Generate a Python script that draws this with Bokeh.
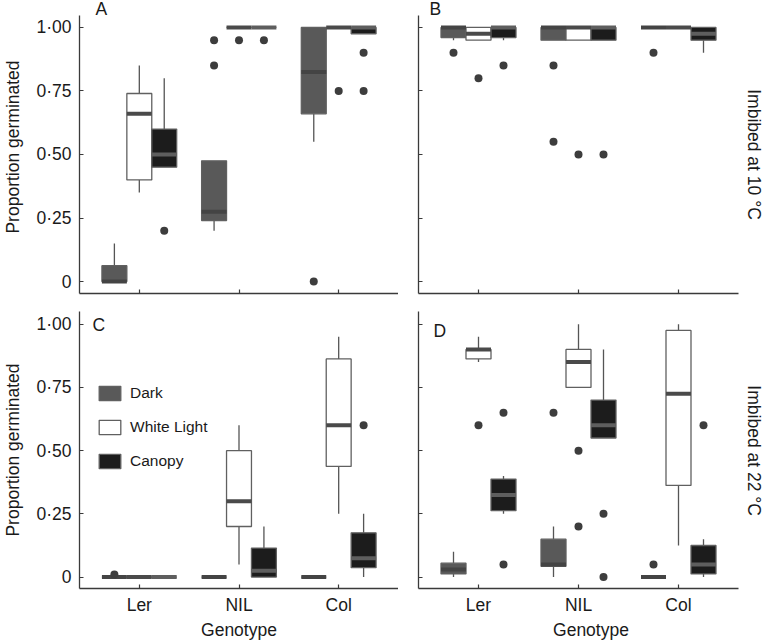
import math
from bokeh.plotting import figure
from bokeh.layouts import column, row
from bokeh.models import (ColumnDataSource, FixedTicker, Label, Legend, LegendItem,
                          CustomJSTickFormatter, Range1d)
from bokeh.embed import file_html
from bokeh.resources import INLINE

FONT = "Liberation Sans"

genotypes = ["Ler", "NIL", "Col"]
treatments = ["Dark", "White Light", "Canopy"]
y_ticks = [0, 0.25, 0.5, 0.75, 1.0]
y_tick_labels = ["0", "0·25", "0·50", "0·75", "1·00"]
row_labels = ["Imbibed at 10 °C", "Imbibed at 22 °C"]
y_axis_title = "Proportion germinated"
x_axis_title = "Genotype"

# Box statistics, 9 groups: Ler (Dark, White Light, Canopy), NIL (...), Col (...)
A_low = [0.00, 0.35, 0.45, 0.20, 1.00, 1.00, 0.55, 1.00, 0.975]
A_q1 = [0.00, 0.40, 0.45, 0.24, 1.00, 1.00, 0.66, 1.00, 0.975]
A_med = [0.00, 0.66, 0.50, 0.275, 1.00, 1.00, 0.825, 1.00, 1.00]
A_q3 = [0.0625, 0.74, 0.60, 0.475, 1.00, 1.00, 1.00, 1.00, 1.00]
A_high = [0.15, 0.85, 0.80, 0.475, 1.00, 1.00, 1.00, 1.00, 1.00]
A_out_group = [2, 3, 3, 4, 5, 6, 7, 8, 8]
A_out_value = [0.20, 0.85, 0.95, 0.95, 0.95, 0.00, 0.75, 0.90, 0.75]

B_low = [0.95, 0.95, 0.95, 0.95, 0.95, 0.95, 1.00, 1.00, 0.90]
B_q1 = [0.96, 0.95, 0.96, 0.95, 0.95, 0.95, 1.00, 1.00, 0.95]
B_med = [1.00, 0.975, 1.00, 1.00, 1.00, 1.00, 1.00, 1.00, 0.975]
B_q3 = [1.00, 1.00, 1.00, 1.00, 1.00, 1.00, 1.00, 1.00, 1.00]
B_high = [1.00, 1.00, 1.00, 1.00, 1.00, 1.00, 1.00, 1.00, 1.00]
B_out_group = [0, 1, 2, 3, 3, 4, 5, 6]
B_out_value = [0.90, 0.80, 0.85, 0.85, 0.55, 0.50, 0.50, 0.90]

C_low = [0.00, 0.00, 0.00, 0.00, 0.05, 0.00, 0.00, 0.25, 0.00]
C_q1 = [0.00, 0.00, 0.00, 0.00, 0.20, 0.00, 0.00, 0.4375, 0.0375]
C_med = [0.00, 0.00, 0.00, 0.00, 0.30, 0.025, 0.00, 0.60, 0.075]
C_q3 = [0.00, 0.00, 0.00, 0.00, 0.50, 0.115, 0.00, 0.8625, 0.175]
C_high = [0.00, 0.00, 0.00, 0.00, 0.60, 0.20, 0.00, 0.95, 0.25]
C_out_group = [0, 8]
C_out_value = [0.01, 0.60]

D_low = [0.00, 0.85, 0.25, 0.00, 0.75, 0.55, 0.00, 0.125, 0.00]
D_q1 = [0.0125, 0.8625, 0.2625, 0.0425, 0.75, 0.55, 0.00, 0.3625, 0.0125]
D_med = [0.03, 0.90, 0.325, 0.05, 0.85, 0.60, 0.00, 0.725, 0.05]
D_q3 = [0.055, 0.90, 0.3875, 0.15, 0.90, 0.70, 0.00, 0.975, 0.125]
D_high = [0.10, 0.95, 0.40, 0.20, 1.00, 0.90, 0.00, 1.00, 0.15]
D_out_group = [1, 2, 2, 3, 4, 4, 5, 5, 6, 8]
D_out_value = [0.60, 0.65, 0.05, 0.65, 0.50, 0.20, 0.25, 0.00, 0.05, 0.60]

# styles / layout
FILLS = ["#595959", "#ffffff", "#1c1c1c"]
MEDIANS = ["#444444", "#4a4a4a", "#5e5e5e"]
OUTLINE = "#606060"
WHISKER = "#555555"
AXIS = "#3a3a3a"
TEXT = "#1a1a1a"
BOX_W = 0.25
X_AXIS_START, X_AXIS_END = 0.4, 3.6
X_END_RIGHT = 3.85          # right column frames reach the page edge (room for row label)
Y_AXIS_LO, Y_AXIS_HI = -0.047, 1.047
TOP_Y_END = 1.106           # top row frames reach the page top (room for panel letter)
BOT_Y_RANGE = (-0.045, 1.05)


def group_x(i):
    g, t = divmod(i, 3)
    return g + 1 + (t - 1) * BOX_W


def build(low, q1, med, q3, high, out_group, out_value, letter, letter_dx, letter_y,
          left_col, bottom_row, row_label, with_legend):
    width = 398 if left_col else 365
    height = 341 if bottom_row else 301
    x_end = X_AXIS_END if left_col else X_END_RIGHT
    if bottom_row:
        yr = Range1d(*BOT_Y_RANGE)
    else:
        yr = Range1d(Y_AXIS_LO, TOP_Y_END)
    p = figure(width=width, height=height, output_backend="svg", toolbar_location=None,
               x_range=Range1d(X_AXIS_START, x_end), y_range=yr,
               min_border_left=78 if left_col else 20,
               min_border_right=0,
               min_border_top=10 if bottom_row else 0,
               min_border_bottom=52 if bottom_row else 8)
    p.outline_line_color = None
    p.grid.visible = False
    p.background_fill_color = "white"
    p.border_fill_color = "white"

    for ax in (p.xaxis[0], p.yaxis[0]):
        ax.axis_line_color = AXIS
        ax.axis_line_width = 1.3
        ax.major_tick_line_color = AXIS
        ax.major_tick_line_width = 1.2
        ax.major_tick_in = 4
        ax.major_tick_out = 0
        ax.minor_tick_line_color = None
        ax.major_label_text_font = FONT
        ax.major_label_text_font_size = "17.5px"
        ax.major_label_text_color = TEXT
        ax.axis_label_text_font = FONT
        ax.axis_label_text_font_size = "17.5px"
        ax.axis_label_text_font_style = "normal"
        ax.axis_label_text_color = TEXT

    p.xaxis.ticker = FixedTicker(ticks=[1, 2, 3])
    p.xaxis.bounds = (X_AXIS_START, X_AXIS_END)
    p.yaxis.ticker = FixedTicker(ticks=y_ticks)
    if not bottom_row:
        p.yaxis.bounds = (Y_AXIS_LO, Y_AXIS_HI)

    if bottom_row:
        p.xaxis.major_label_overrides = {i + 1: g for i, g in enumerate(genotypes)}
        p.xaxis.major_label_standoff = 6
        p.xaxis.axis_label = x_axis_title
        p.xaxis.axis_label_standoff = 2
    else:
        p.xaxis.formatter = CustomJSTickFormatter(code="return ''")
        p.xaxis.major_label_text_font_size = "0px"
        p.xaxis.major_label_standoff = 0
    if left_col:
        p.yaxis.major_label_overrides = {v: s for v, s in zip(y_ticks, y_tick_labels)}
        p.yaxis.major_label_standoff = 8
        p.yaxis.axis_label = y_axis_title
        p.yaxis.axis_label_standoff = 10
    else:
        p.yaxis.formatter = CustomJSTickFormatter(code="return ''")
        p.yaxis.major_label_text_font_size = "0px"
        p.yaxis.major_label_standoff = 0

    box_r = []
    for t in range(3):
        idx = [i for i in range(9) if i % 3 == t]
        xs = [group_x(i) for i in idx]
        src = ColumnDataSource(dict(
            x=xs,
            low=[low[i] for i in idx], q1=[q1[i] for i in idx],
            q3=[q3[i] for i in idx], high=[high[i] for i in idx]))
        p.segment(x0="x", y0="low", x1="x", y1="q1", source=src,
                  line_color=WHISKER, line_width=1.3)
        p.segment(x0="x", y0="q3", x1="x", y1="high", source=src,
                  line_color=WHISKER, line_width=1.3)
        br = p.vbar(x="x", width=BOX_W, bottom="q1", top="q3", source=src,
                    fill_color=FILLS[t], line_color=OUTLINE, line_width=1.3)
        box_r.append(br)
    for t in range(3):
        idx = [i for i in range(9) if i % 3 == t]
        xs = [group_x(i) for i in idx]
        src = ColumnDataSource(dict(
            x0=[x - BOX_W / 2 for x in xs],
            x1=[x + BOX_W / 2 for x in xs],
            med=[med[i] for i in idx]))
        p.segment(x0="x0", y0="med", x1="x1", y1="med", source=src,
                  line_color=MEDIANS[t], line_width=4, line_cap="butt")

    out_src = ColumnDataSource(dict(x=[group_x(g) for g in out_group], y=out_value))
    p.scatter(x="x", y="y", source=out_src, size=8, fill_color="#3d3d3d", line_color=None)

    if with_legend:
        leg_r = []
        for t in range(3):
            e = ColumnDataSource(dict(x0=[], x1=[], y=[]))
            leg_r.append(p.segment(x0="x0", y0="y", x1="x1", y1="y", source=e,
                                   line_color=MEDIANS[t], line_width=2))
        items = [LegendItem(label=treatments[t], renderers=[box_r[t], leg_r[t]]) for t in range(3)]
        legend = Legend(items=items, location=(17, 117), glyph_width=27, glyph_height=18,
                        label_height=20, spacing=14, padding=0, margin=0, label_standoff=7,
                        label_text_font=FONT, label_text_font_size="15.5px",
                        label_text_color=TEXT, background_fill_alpha=0,
                        border_line_color=None)
        p.add_layout(legend, "center")

    p.add_layout(Label(x=X_AXIS_START, y=letter_y, x_offset=letter_dx, y_offset=6, text=letter,
                       text_font=FONT, text_font_size="17.5px", text_color=TEXT,
                       text_align="left", text_baseline="alphabetic"))
    if row_label is not None:
        p.add_layout(Label(x=X_AXIS_END, y=0.5, x_offset=15, text=row_label, angle=-math.pi / 2,
                           text_font=FONT, text_font_size="17.5px", text_color=TEXT,
                           text_align="center", text_baseline="middle"))
    return p


pA = build(A_low, A_q1, A_med, A_q3, A_high, A_out_group, A_out_value, "A", 16, 1.047,
           True, False, None, False)
pB = build(B_low, B_q1, B_med, B_q3, B_high, B_out_group, B_out_value, "B", 11, 1.047,
           False, False, row_labels[0], False)
pC = build(C_low, C_q1, C_med, C_q3, C_high, C_out_group, C_out_value, "C", 13, 0.972,
           True, True, None, True)
pD = build(D_low, D_q1, D_med, D_q3, D_high, D_out_group, D_out_value, "D", 15, 0.949,
           False, True, row_labels[1], False)

layout = column(row(pA, pB), row(pC, pD))
open("out.html", "w").write(file_html(layout, INLINE))
